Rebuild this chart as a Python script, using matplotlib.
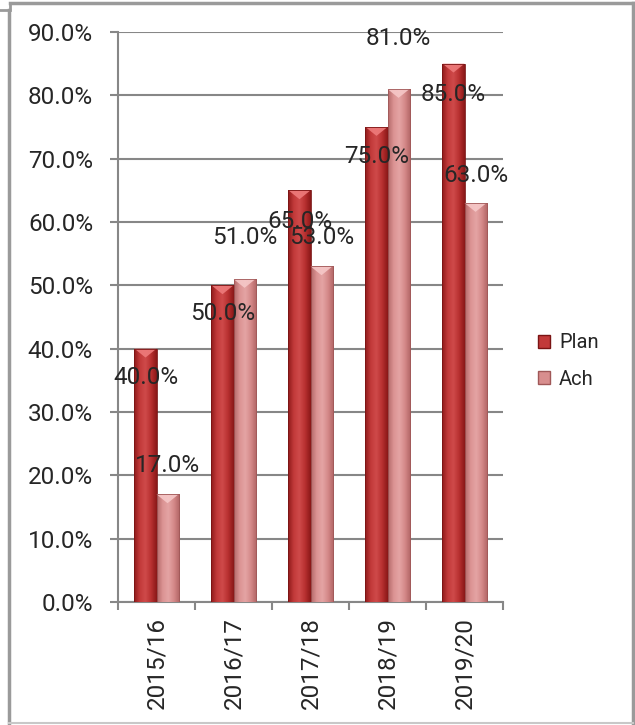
import numpy as np
import matplotlib
matplotlib.use("Agg")
import matplotlib.pyplot as plt
from matplotlib.colors import LinearSegmentedColormap
from matplotlib.patches import Polygon, Patch
from matplotlib.lines import Line2D

plt.rcParams['font.family'] = ['Roboto', 'DejaVu Sans']

years = ['2015/16', '2016/17', '2017/18', '2018/19', '2019/20']
plan = [40.0, 50.0, 65.0, 75.0, 85.0]
ach = [17.0, 51.0, 53.0, 81.0, 63.0]

# where each value label sits relative to the top of its bar (in % units)
plan_label_dy = [-4.6, -4.4, -5.0, -4.7, -4.8]
ach_label_dy = [4.5, 6.5, 4.5, 8.0, 4.3]

plan_shades = ['#8e1a1a', '#c23a3a', '#cf4a4a', '#b83030', '#8a1818']
ach_shades = ['#b56a6a', '#dc9494', '#e4a4a4', '#d48888', '#b06464']
plan_top = '#ee7b7b'
ach_top = '#f6c8c8'
text_col = '#262626'
grid_col = '#878787'

fig = plt.figure(figsize=(6.35, 7.25), dpi=100)
ax = fig.add_axes([118 / 635, 1 - 602 / 725, (503 - 118) / 635, (602 - 32) / 725])

x = np.arange(len(years))
w = 0.286
bars_p = ax.bar(x - w / 2, plan, w, color='none', edgecolor='none', zorder=3)
bars_a = ax.bar(x + w / 2, ach, w, color='none', edgecolor='none', zorder=3)

grad = np.linspace(0, 1, 64).reshape(1, -1)


def shade_bars(bars, shades, top_col, edge_col):
    cmap = LinearSegmentedColormap.from_list('s', shades)
    for b in bars:
        x0, w0, h = b.get_x(), b.get_width(), b.get_height()
        im = ax.imshow(grad, extent=[x0, x0 + w0, 0, h], aspect='auto',
                       cmap=cmap, zorder=3, interpolation='bilinear')
        im.set_clip_path(b)
        ax.add_patch(Polygon([(x0, h), (x0 + w0, h), (x0 + w0 / 2, h - 1.4)],
                             closed=True, facecolor=top_col, edgecolor='none',
                             alpha=0.9, zorder=4))
        ax.add_patch(plt.Rectangle((x0, 0), w0, h, facecolor='none',
                                   edgecolor=edge_col, lw=0.6, zorder=4))


shade_bars(bars_p, plan_shades, plan_top, '#7a1414')
shade_bars(bars_a, ach_shades, ach_top, '#a05858')

for i in range(len(years)):
    ax.text(x[i] - w / 2, plan[i] + plan_label_dy[i], f'{plan[i]:.1f}%',
            ha='center', va='center', fontsize=17.5, color=text_col, zorder=6)
    ax.text(x[i] + w / 2, ach[i] + ach_label_dy[i], f'{ach[i]:.1f}%',
            ha='center', va='center', fontsize=17.5, color=text_col, zorder=6)

ax.set_xlim(-0.5, len(years) - 0.5)
ax.set_ylim(0, 90)
ax.set_yticks(np.arange(0, 91, 10))
ax.set_yticklabels([f'{v:.1f}%' for v in np.arange(0, 91, 10)])
ax.yaxis.grid(True, color=grid_col, lw=1.5, zorder=1)
ax.set_axisbelow(True)

ax.set_xticks(np.arange(-0.5, len(years), 1.0))
ax.set_xticklabels([])
ax.set_xticks(x, minor=True)
ax.set_xticklabels(years, minor=True, rotation=90, fontsize=17.5, color=text_col)
ax.tick_params(axis='x', which='major', length=6, width=1.5, color=grid_col, direction='out')
ax.tick_params(axis='x', which='minor', length=0, pad=11)
ax.tick_params(axis='y', length=6, width=1.5, color=grid_col, pad=12,
               labelsize=17.5, labelcolor=text_col)

for s in ['top', 'right']:
    ax.spines[s].set_visible(False)
for s in ['left', 'bottom']:
    ax.spines[s].set_color(grid_col)
    ax.spines[s].set_linewidth(1.5)

handles = [Patch(facecolor='#c23a3a', edgecolor='#7a1414', label='Plan'),
           Patch(facecolor='#d88e8e', edgecolor='#a05858', label='Ach')]
fig.legend(handles=handles, loc='center left', bbox_to_anchor=(538 / 635, 1 - 361 / 725),
           frameon=False, fontsize=14.5, handlelength=0.6, handleheight=0.6,
           handletextpad=0.45, labelspacing=0.85, borderpad=0, borderaxespad=0,
           labelcolor=text_col)

# outer chart border
frame_col = '#9a9a9a'
fig.add_artist(Line2D([9 / 635, 9 / 635], [0, 1 - 10 / 725], color=frame_col, lw=2.5))
fig.add_artist(Line2D([0, 9 / 635], [1 - 10 / 725, 1 - 10 / 725], color=frame_col, lw=2))
fig.add_artist(Line2D([10 / 635, 633 / 635], [1 - 3 / 725, 1 - 3 / 725], color=frame_col, lw=2.5))
fig.add_artist(Line2D([10 / 635, 10 / 635], [1 - 3 / 725, 1 - 10 / 725], color=frame_col, lw=2))
fig.add_artist(Line2D([633 / 635, 633 / 635], [1 - 3 / 725, 1 - 723 / 725], color=frame_col, lw=2.5))
fig.add_artist(Line2D([9 / 635, 633 / 635], [1 - 723 / 725, 1 - 723 / 725], color='#c8c8c8', lw=1.5))

fig.savefig('out.png', dpi=100)
